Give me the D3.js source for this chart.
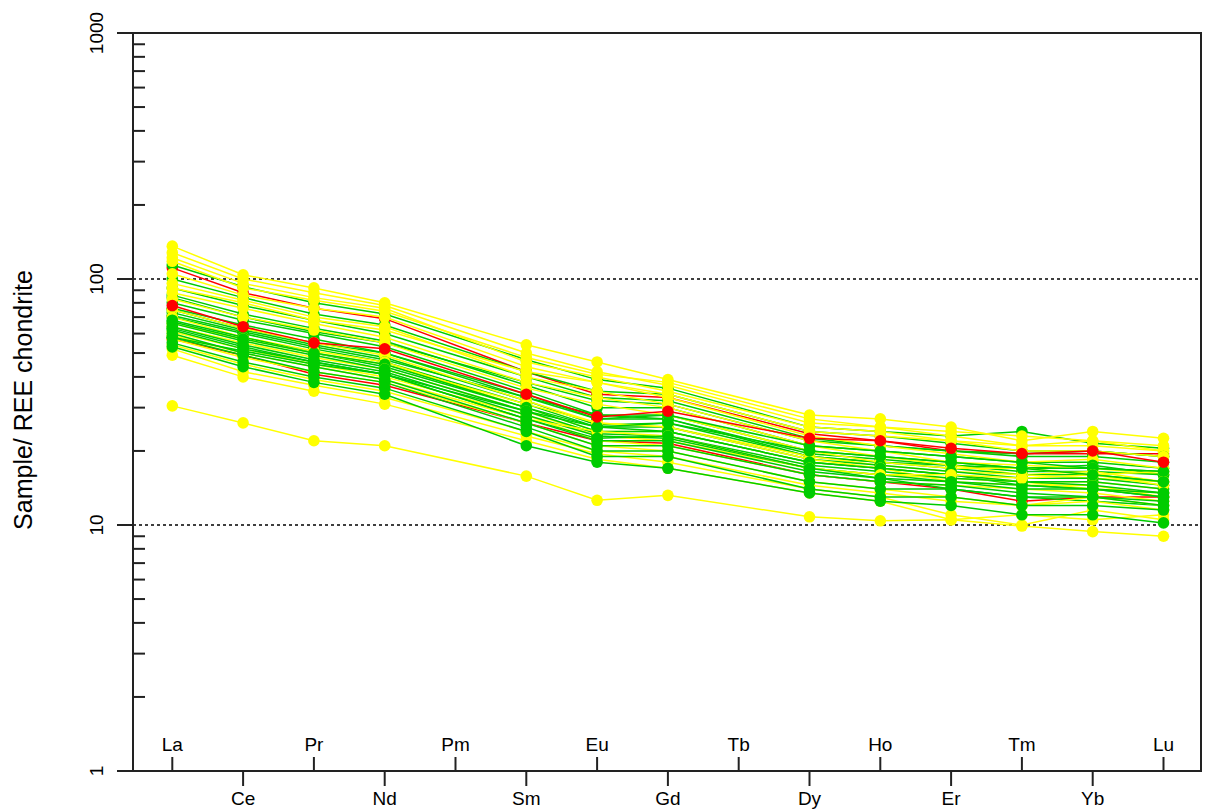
<!DOCTYPE html>
<html>
<head>
<meta charset="utf-8">
<script src="https://cdn.jsdelivr.net/npm/d3@7"></script>
<style>
  html, body { margin: 0; padding: 0; background: #fff; }
  svg { display: block; }
  text { font-family: "Liberation Sans", Arial, sans-serif; fill: #000; }
</style>
</head>
<body>
<svg id="chart" width="1206" height="812"></svg>
<script>
// ---- data ----
const allElements = ["La","Ce","Pr","Nd","Pm","Sm","Eu","Gd","Tb","Dy","Ho","Er","Tm","Yb","Lu"];
const measured   = ["La","Ce","Pr","Nd","Sm","Eu","Gd","Dy","Ho","Er","Tm","Yb","Lu"];
const upperLabels = ["La","Pr","Pm","Eu","Tb","Ho","Tm","Lu"];
const lowerLabels = ["Ce","Nd","Sm","Gd","Dy","Er","Yb"];
const yTickValues = [1, 10, 100, 1000];
const yTickLabels = ["1", "10", "100", "1000"];
const dottedLevels = [10, 100];
const yAxisTitle = "Sample/ REE chondrite";

const yellowSamples = [
  [136, 104, 92, 80, 54, 46, 39, 28, 27, 25, 22, 24, 22.5],
  [128, 100, 88, 78, 50, 42, 37, 26, 25, 24, 23, 22, 21],
  [122, 96, 84, 76, 46, 40, 35, 25, 24, 22, 21, 21, 20],
  [118, 92, 82, 74, 48, 41, 38, 27, 25, 23, 21, 22, 20],
  [105, 86, 76, 70, 44, 38, 33, 23, 21, 19.5, 18, 18.5, 17],
  [96, 82, 70, 64, 40, 35, 31, 22, 20, 18, 17.5, 17, 16],
  [92, 80, 68, 62, 42, 38, 34, 24, 23, 22, 20, 20, 19],
  [88, 76, 66, 58, 38, 33, 30, 21, 19, 17.5, 16, 16.5, 15],
  [83, 70, 62, 55, 36, 31, 28, 20, 18, 17, 17, 16, 16.5],
  [75, 63, 55, 49, 32, 26, 25, 19, 17.5, 16.5, 16, 15.5, 15],
  [70, 58, 51, 46, 30, 24, 24, 18, 17, 16, 15, 15, 14],
  [66, 57, 50, 45, 31, 26, 25, 18.5, 17, 15, 14.5, 14.5, 13],
  [64, 55, 48, 43, 29, 23, 22, 17, 16, 15.5, 15, 14, 13.5],
  [61, 52, 45, 40, 28, 22, 21, 16, 15, 14.5, 14, 13.5, 12.5],
  [59, 50, 44, 39, 27, 24, 23, 17, 16, 16, 15.5, 16, 14.5],
  [57, 48, 42, 38, 26, 21, 20, 15, 14, 13, 12, 13, 12],
  [54, 45, 39, 35, 24, 20, 19, 14.5, 13.5, 12.5, 12, 12.5, 11.5],
  [52, 42, 37, 33, 23, 19.5, 18, 14, 13, 11, 10, 11.5, 10.5],
  [49, 40, 35, 31, 22, 18.5, 17, 13.5, 12.5, 10.5, 11, 10.5, 11],
  [30.5, 26, 22, 21, 15.8, 12.6, 13.2, 10.8, 10.4, 10.5, 9.9, 9.4, 9.0]
];

const greenSamples = [
  [114, 93, 80, 72, 47, 39, 36, 25, 24, 23, 24, 21.5, 20.5],
  [100, 84, 72, 65, 42, 35, 34, 24, 23, 21.5, 20, 20, 19],
  [92, 78, 68, 60, 40, 33, 32, 22.5, 21, 20, 19, 19, 18],
  [86, 72, 63, 56, 37, 30, 30, 21, 20, 19, 18, 18, 17],
  [84, 70, 61, 55, 38, 32, 31, 22, 21, 20, 19.5, 20, 19],
  [80, 68, 60, 53, 35, 28, 28, 20, 19, 18, 17, 17.5, 16],
  [76, 65, 57, 50, 34, 27, 27, 19.5, 18.5, 17.5, 16.5, 16.5, 16],
  [75, 63, 55, 50, 33, 28, 27, 19, 18, 17.5, 17, 17, 16.5],
  [73, 62, 54, 48, 32, 25.5, 26, 19, 18, 17, 16, 16, 15],
  [71, 61, 53, 47, 33, 27, 28, 21, 20, 19, 18, 17, 16.5],
  [70, 60, 52, 46, 31, 25, 25, 18.5, 17.5, 16.5, 15.5, 15.5, 14.5],
  [68, 58, 50, 44, 30, 24, 24, 18, 17, 16, 15, 15, 14],
  [67, 57, 50, 45, 30, 25, 24, 18, 17, 16, 14.5, 14, 13],
  [66, 56, 49, 43, 29, 23.5, 23, 17.5, 16.5, 15.5, 15, 14.5, 13.5],
  [64, 54, 47, 42, 28, 23, 22.5, 17, 16, 15, 14.5, 14, 13],
  [63, 53, 46, 41, 27, 22.5, 23, 17, 15.5, 14, 13, 12.5, 12],
  [62, 52, 46, 41, 27, 22, 22, 16.5, 15.5, 15, 14, 14, 13.5],
  [60, 50, 44, 39, 26, 21, 21, 16, 15, 14.5, 13.5, 13, 12.5],
  [58, 49, 42, 38, 25, 20, 20, 15, 14, 14, 13, 13, 12],
  [55, 46, 40, 36, 24, 19, 19, 14, 13, 13, 12, 12, 11.5],
  [53, 44, 38, 34, 21, 18, 17, 13.5, 12.5, 12, 11, 11, 10.2],
  [58, 51, 45, 41, 29, 25, 26, 20, 19, 18, 17, 16, 15]
];

// red samples drawn underneath (mostly hidden) and on top
const redSamplesUnder = [
  [111, 88, 76, 69, 42, 34, 33, 23.5, 22, 20, 19.5, 19.5, 19.5],
  [57, 49, 41, 37, 26, 22, 21.5, 16, 15, 14, 12.5, 13, 13]
];
const redSamplesTop = [
  [78, 64, 55, 52, 34, 27.5, 29, 22.5, 22, 20.5, 19.5, 20, 18]
];

const groupColors = { yellow: "#FFFF00", green: "#00CC00", red: "#FF0000" };

// ---- layout ----
const svg = d3.select("#chart");
const plot = { left: 133, right: 1201, top: 33, bottom: 771 };

const x = d3.scalePoint().domain(allElements).range([172.3, 1163.5]);
const y = d3.scaleLog().domain([1, 1000]).range([plot.bottom, plot.top]);

// series in drawing order (interleaved)
const series = [];
redSamplesUnder.forEach(v => series.push({ color: groupColors.red, values: v }));
const nMax = Math.max(yellowSamples.length, greenSamples.length);
for (let i = 0; i < nMax; i++) {
  if (i < greenSamples.length) series.push({ color: groupColors.green, values: greenSamples[i] });
  if (i < yellowSamples.length) series.push({ color: groupColors.yellow, values: yellowSamples[i] });
}
redSamplesTop.forEach(v => series.push({ color: groupColors.red, values: v }));

// dotted reference lines
svg.append("g").selectAll("line").data(dottedLevels).join("line")
  .attr("x1", plot.left).attr("x2", plot.right)
  .attr("y1", d => y(d)).attr("y2", d => y(d))
  .attr("stroke", "#000").attr("stroke-width", 1.5)
  .attr("stroke-dasharray", "3,3");

// series
const line = d3.line().x(d => x(d.el)).y(d => y(d.v));
const gSeries = svg.append("g");
series.forEach(s => {
  const pts = measured.map((el, i) => ({ el, v: s.values[i] }));
  const g = gSeries.append("g");
  g.append("path").datum(pts).attr("d", line)
    .attr("fill", "none").attr("stroke", s.color).attr("stroke-width", 1.5);
  g.selectAll("circle").data(pts).join("circle")
    .attr("cx", d => x(d.el)).attr("cy", d => y(d.v)).attr("r", 5.8)
    .attr("fill", s.color);
});

// frame
svg.append("rect")
  .attr("x", plot.left).attr("y", plot.top)
  .attr("width", plot.right - plot.left).attr("height", plot.bottom - plot.top)
  .attr("fill", "none").attr("stroke", "#222").attr("stroke-width", 2);

// y axis: major ticks outward, minor inward
const yAxisG = svg.append("g");
yAxisG.selectAll("line.major").data(yTickValues).join("line")
  .attr("class", "major")
  .attr("x1", plot.left - 16).attr("x2", plot.left)
  .attr("y1", d => y(d)).attr("y2", d => y(d))
  .attr("stroke", "#222").attr("stroke-width", 2);
const minor = [];
[1, 10, 100].forEach(dec => { for (let k = 2; k <= 9; k++) minor.push(dec * k); });
yAxisG.selectAll("line.minor").data(minor).join("line")
  .attr("class", "minor")
  .attr("x1", plot.left).attr("x2", plot.left + 12)
  .attr("y1", d => y(d)).attr("y2", d => y(d))
  .attr("stroke", "#222").attr("stroke-width", 2);
yAxisG.selectAll("text").data(yTickValues).join("text")
  .attr("transform", d => `translate(103,${y(d)}) rotate(-90)`)
  .attr("text-anchor", "middle")
  .attr("font-size", 19)
  .text((d, i) => yTickLabels[i]);

// y axis title
svg.append("text")
  .attr("transform", `translate(32,400) rotate(-90)`)
  .attr("text-anchor", "middle")
  .attr("font-size", 25)
  .text(yAxisTitle);

// x axis ticks & labels
const xAxisG = svg.append("g");
xAxisG.selectAll("line.up").data(upperLabels).join("line")
  .attr("class", "up")
  .attr("x1", d => x(d)).attr("x2", d => x(d))
  .attr("y1", plot.bottom).attr("y2", plot.bottom - 14)
  .attr("stroke", "#222").attr("stroke-width", 2);
xAxisG.selectAll("text.up").data(upperLabels).join("text")
  .attr("class", "up")
  .attr("x", d => x(d)).attr("y", 751)
  .attr("text-anchor", "middle").attr("font-size", 19)
  .text(d => d);
xAxisG.selectAll("line.down").data(lowerLabels).join("line")
  .attr("class", "down")
  .attr("x1", d => x(d)).attr("x2", d => x(d))
  .attr("y1", plot.bottom).attr("y2", plot.bottom + 15)
  .attr("stroke", "#222").attr("stroke-width", 2);
xAxisG.selectAll("text.down").data(lowerLabels).join("text")
  .attr("class", "down")
  .attr("x", d => x(d)).attr("y", 805)
  .attr("text-anchor", "middle").attr("font-size", 19)
  .text(d => d);
</script>
</body>
</html>
